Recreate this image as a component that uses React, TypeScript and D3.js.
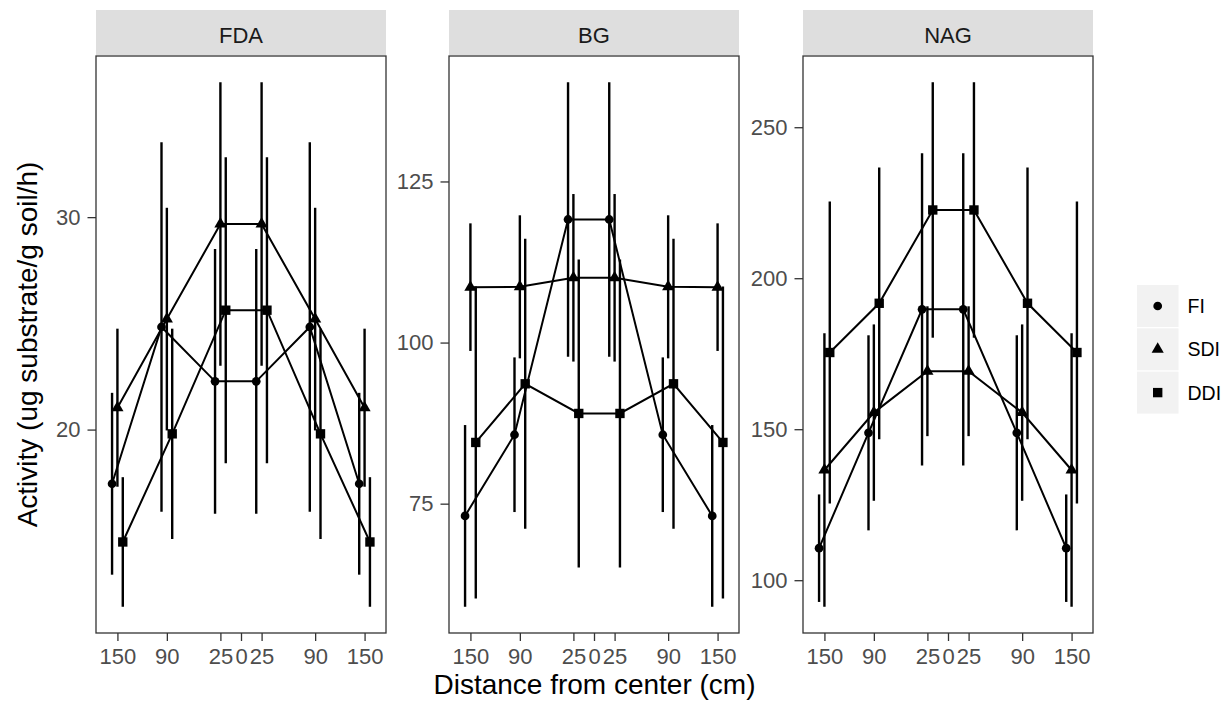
import React, { useEffect, useRef } from 'react';
import * as d3 from 'd3';

// facets, groups and distances (negative = one side of the center)
const enzymes = ['FDA', 'BG', 'NAG'];
const groups = ['FI', 'SDI', 'DDI'];
const distances = [-150, -90, -25, 25, 90, 150];
const xTicks = [-150, -90, -25, 0, 25, 90, 150];
const xTickLabels = ['150', '90', '25', '0', '25', '90', '150'];

// means and standard errors, one row per group (FI, SDI, DDI)
const fdaMean = [
  [17.45, 24.83, 22.27, 22.27, 24.83, 17.45],
  [21.03, 25.2, 29.68, 29.68, 25.2, 21.03],
  [14.71, 19.8, 25.62, 25.62, 19.8, 14.71],
];
const fdaSe = [
  [4.28, 8.7, 6.23, 6.23, 8.7, 4.28],
  [3.72, 5.24, 6.67, 6.67, 5.24, 3.72],
  [3.05, 4.95, 7.2, 7.2, 4.95, 3.05],
];
const bgMean = [
  [73.1, 85.7, 119.1, 119.1, 85.7, 73.1],
  [108.6, 108.65, 110.05, 110.05, 108.65, 108.6],
  [84.5, 93.6, 89.0, 89.0, 93.6, 84.5],
];
const bgSe = [
  [14.1, 12.0, 21.3, 21.3, 12.0, 14.1],
  [9.9, 11.1, 13.0, 13.0, 11.1, 9.9],
  [24.2, 22.5, 23.9, 23.9, 22.5, 24.2],
];
const nagMean = [
  [110.6, 148.8, 189.7, 189.7, 148.8, 110.6],
  [136.5, 155.5, 169.2, 169.2, 155.5, 136.5],
  [175.4, 191.7, 222.6, 222.6, 191.7, 175.4],
];
const nagSe = [
  [17.8, 32.3, 51.7, 51.7, 32.3, 17.8],
  [45.3, 29.2, 21.5, 21.5, 29.2, 45.3],
  [50.0, 45.0, 42.3, 42.3, 45.0, 50.0],
];
const fdaTicks = [20, 30];
const bgTicks = [75, 100, 125];
const nagTicks = [100, 150, 200, 250];

const panels = [
  { name: enzymes[0], mean: fdaMean, se: fdaSe, ticks: fdaTicks },
  { name: enzymes[1], mean: bgMean, se: bgSe, ticks: bgTicks },
  { name: enzymes[2], mean: nagMean, se: nagSe, ticks: nagTicks },
];

const W = 1225;
const H = 701;
const panelLeft = [96, 449, 803];
const panelW = 290;
const top = 56;
const bottom = 633;
const dodge = [-6.5, 0, 6.5];
const shapes = [d3.symbolCircle, d3.symbolTriangle, d3.symbolSquare];
const sizes = [60, 64, 88];
const font = '"Liberation Sans", Arial, sans-serif';

function App() {
  const svgRef = useRef<SVGSVGElement>(null);

  useEffect(() => {
    const svg = d3.select(svgRef.current);
    svg.selectAll('*').remove();

    panels.forEach((p, pi) => {
      const x0 = panelLeft[pi];
      const x = d3.scaleLinear().domain([-176, 176]).range([x0, x0 + panelW]);

      // y range = data extent (incl. error bars) + 5% each side, like ggplot
      const lows = p.mean.flatMap((row, gi) => row.map((m, k) => m - p.se[gi][k]));
      const highs = p.mean.flatMap((row, gi) => row.map((m, k) => m + p.se[gi][k]));
      const lo = d3.min(lows) as number;
      const hi = d3.max(highs) as number;
      const pad = (hi - lo) * 0.05;
      const y = d3.scaleLinear().domain([lo - pad, hi + pad]).range([bottom, top]);

      const g = svg.append('g');

      // strip
      g.append('rect')
        .attr('x', x0).attr('y', 10)
        .attr('width', panelW).attr('height', 45)
        .attr('fill', '#dedede');
      g.append('text')
        .attr('x', x0 + panelW / 2).attr('y', 42.5)
        .attr('text-anchor', 'middle')
        .attr('font-size', 22)
        .attr('fill', '#1a1a1a')
        .text(p.name);

      // axes
      const xAxis = g.append('g')
        .attr('transform', `translate(0, ${bottom})`)
        .call(d3.axisBottom(x).tickValues(xTicks).tickFormat((d, i) => xTickLabels[i]).tickSize(8).tickPadding(7.5));
      const yAxis = g.append('g')
        .attr('transform', `translate(${x0}, 0)`)
        .call(d3.axisLeft(y).tickValues(p.ticks).tickFormat(d3.format('d')).tickSize(8.5).tickPadding(7));
      [xAxis, yAxis].forEach(a => {
        a.select('.domain').remove();
        a.selectAll('line').attr('stroke', '#333333').attr('stroke-width', 1.3);
        a.selectAll('text').attr('fill', '#4d4d4d').attr('font-size', 22).attr('font-family', font);
      });

      // error bars, lines, points
      p.mean.forEach((row, gi) => {
        const pts = row.map((m, k) => ({
          x: x(distances[k] + dodge[gi]),
          y: y(m),
          lo: y(m - p.se[gi][k]),
          hi: y(m + p.se[gi][k]),
        }));

        g.append('g').selectAll('line').data(pts)
          .join('line')
          .attr('x1', d => d.x).attr('x2', d => d.x)
          .attr('y1', d => d.lo).attr('y2', d => d.hi)
          .attr('stroke', 'black')
          .attr('stroke-width', 2.4);

        g.append('path')
          .datum(pts)
          .attr('d', d3.line<any>().x(d => d.x).y(d => d.y))
          .attr('fill', 'none')
          .attr('stroke', 'black')
          .attr('stroke-width', 2);

        g.append('g').selectAll('path').data(pts)
          .join('path')
          .attr('transform', d => `translate(${d.x}, ${d.y})`)
          .attr('d', d3.symbol().type(shapes[gi]).size(sizes[gi])())
          .attr('fill', 'black');
      });

      // panel border
      g.append('rect')
        .attr('x', x0).attr('y', top)
        .attr('width', panelW).attr('height', bottom - top)
        .attr('fill', 'none')
        .attr('stroke', '#333333')
        .attr('stroke-width', 1.3);
    });

    // legend
    const legend = svg.append('g');
    groups.forEach((name, i) => {
      const ky = 285 + i * 43.3;
      legend.append('rect')
        .attr('x', 1137).attr('y', ky)
        .attr('width', 41.5).attr('height', 42)
        .attr('fill', '#f2f2f2');
      legend.append('path')
        .attr('transform', `translate(${1157.7}, ${ky + 21})`)
        .attr('d', d3.symbol().type(shapes[i]).size(sizes[i])())
        .attr('fill', 'black');
      legend.append('text')
        .attr('x', 1187.5).attr('y', ky + 21)
        .attr('dominant-baseline', 'central')
        .attr('font-size', 19.5)
        .attr('fill', 'black')
        .text(name);
    });

    // axis titles
    svg.append('text')
      .attr('transform', `translate(27, ${(top + bottom) / 2}) rotate(-90)`)
      .attr('text-anchor', 'middle')
      .attr('dominant-baseline', 'central')
      .attr('font-size', 28)
      .text('Activity (ug substrate/g soil/h)');
    svg.append('text')
      .attr('x', (panelLeft[0] + panelLeft[2] + panelW) / 2)
      .attr('y', 694)
      .attr('text-anchor', 'middle')
      .attr('font-size', 28)
      .text('Distance from center (cm)');
  }, []);

  return (
    <svg
      ref={svgRef}
      width={W}
      height={H}
      fontFamily={font}
      style={{ position: 'absolute', left: 0, top: 0, background: 'white', display: 'block' }}
    />
  );
}

export default App;
